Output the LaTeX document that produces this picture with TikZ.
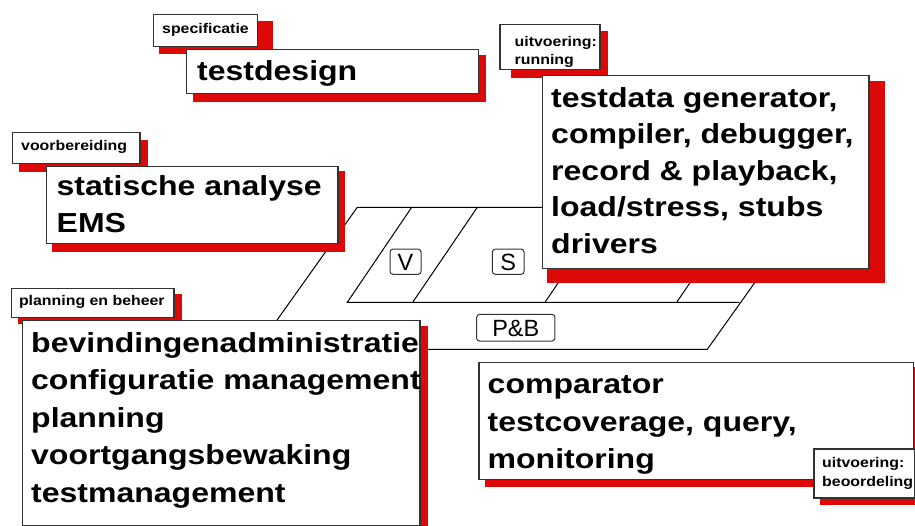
\documentclass[tikz,border=0pt]{standalone}
\usepackage{fontspec}
\setmainfont{Liberation Sans}
\newfontfamily\widesans[FakeStretch=1.164]{Liberation Sans}
\newfontfamily\tagsans[FakeStretch=1.135]{Liberation Sans}
\definecolor{shred}{RGB}{221,8,8}
\tikzset{
  shadowfill/.style={fill=shred, draw=none},
  panel/.style={draw=black!80, line width=1.2pt, fill=white, inner sep=0pt, anchor=north west},
  bigtext/.style={font=\widesans\bfseries\fontsize{27.5}{37}\selectfont, inner sep=0pt, align=left, anchor=north west},
  tagtext/.style={font=\tagsans\bfseries\fontsize{14}{18}\selectfont, inner sep=0pt, align=left, anchor=north west},
  phase/.style={draw=black!80, line width=1pt, fill=white, rounded corners=3pt,
    font=\fontsize{23.5}{28}\selectfont, inner sep=0pt, text height=16.8pt, text depth=0pt},
  frame/.style={line width=1pt, black},
}
\begin{document}
\begin{tikzpicture}[x=1pt,y=-1pt]
\useasboundingbox (0,0) rectangle (915,526);
\clip (0,0) rectangle (915,526);

% phase plan: outer band (P&B) with the inner block of columns (V, S, ...)
\coordinate (oTL) at (357.3,207.3);
\coordinate (oTR) at (808.4,207.3);
\coordinate (oBR) at (707.3,349.3);
\coordinate (oBL) at (256.2,349.3);
\draw[frame] (oTL) -- (oTR) -- (oBR) -- (oBL) -- cycle;
\coordinate (iTL) at (411.7,207.3);
\coordinate (iBL) at (347.3,302.3);
\coordinate (iBR) at (739.3,302.3);
\draw[frame] (iTL) -- (iBL) -- (iBR);
\draw[frame] (477.3,207.3) -- (412.7,302.3);
\draw[frame] (609.6,207.3) -- (545,302.3);
\draw[frame] (741.3,207.3) -- (676.7,302.3);

\node[phase, minimum width=31pt, minimum height=25.3pt] (tagV) at (405.5,261.7) {V};
\node[phase, minimum width=31.7pt, minimum height=25.3pt] (tagS) at (508.2,261.7) {S};
\node[phase, minimum width=78.3pt, minimum height=26.7pt] (tagPB) at (515.8,327.7) {P\&B};

% specificatie / testdesign
\fill[shadowfill] (159,21) rectangle (272.7,54.3);
\node[panel, minimum width=104pt, minimum height=31.7pt] (specbox) at (152.7,14.3) {};
\node[tagtext] (spectext) at (162,18) {\rule{0pt}{15pt}specificatie};
\fill[shadowfill] (193.3,55) rectangle (486,101.7);
\node[panel, minimum width=291.7pt, minimum height=44.3pt] (designbox) at (186,49) {};
\node[bigtext] (designtext) at (197,50.7) {\rule{0pt}{30pt}testdesign};

% uitvoering: running
\fill[shadowfill] (511,31) rectangle (607.7,77.7);
\node[panel, minimum width=100pt, minimum height=45.3pt] (runtag) at (499.3,24) {};
\node[tagtext, font=\tagsans\bfseries\fontsize{14}{17.6}\selectfont] (runtagtext) at (514.5,31.7) {\rule{0pt}{15pt}uitvoering:\\running};
\fill[shadowfill] (547,81) rectangle (885,283.3);
\node[panel, minimum width=326.6pt, minimum height=192.7pt] (runbox) at (541.7,75.3) {};
\node[bigtext, font=\widesans\bfseries\fontsize{27.5}{36.5}\selectfont] (runtext) at (551,77)
  {\rule{0pt}{30pt}testdata generator,\\compiler, debugger,\\record \& playback,\\load/stress, stubs\\drivers};

% voorbereiding
\fill[shadowfill] (19,140) rectangle (147.7,171.7);
\node[panel, minimum width=127.6pt, minimum height=31.6pt] (prepbox) at (11.7,131.7) {};
\node[tagtext] (preptext) at (21,135.7) {\rule{0pt}{15pt}voorbereiding};
\fill[shadowfill] (52.3,170.7) rectangle (345,251.7);
\node[panel, minimum width=291.3pt, minimum height=77.6pt] (statbox) at (46,165.7) {};
\node[bigtext] (stattext) at (56.5,165) {\rule{0pt}{30pt}statische analyse\\EMS};

% planning en beheer
\fill[shadowfill] (17.7,294.3) rectangle (181.7,324.3);
\node[panel, minimum width=162.3pt, minimum height=28.4pt] (plantag) at (11,288.3) {};
\node[tagtext] (plantagtext) at (18.8,290) {\rule{0pt}{15pt}planning en beheer};
\fill[shadowfill] (27,326) rectangle (428.3,535);
\node[panel, minimum width=397.6pt, minimum height=205pt] (planbox) at (21.7,320) {};
\node[bigtext, font=\widesans\bfseries\fontsize{27.5}{37.5}\selectfont] (plantext) at (31,322)
  {\rule{0pt}{30pt}bevindingenadministratie\\configuratie management\\planning\\voortgangsbewaking\\testmanagement};

% uitvoering: beoordeling
\fill[shadowfill] (485,367.3) rectangle (925,486.7);
\node[panel, minimum width=434.4pt, minimum height=117.3pt] (compbox) at (478.3,361.7) {};
\node[bigtext, font=\widesans\bfseries\fontsize{27.5}{37.5}\selectfont] (comptext) at (487.5,363.5)
  {\rule{0pt}{30pt}comparator\\testcoverage, query,\\monitoring};
\fill[shadowfill] (820,455) rectangle (925,505);
\node[panel, minimum width=100.5pt, minimum height=49pt] (judgetag) at (813.3,448.3) {};
\node[tagtext, font=\tagsans\bfseries\fontsize{14}{18.7}\selectfont] (judgetext) at (822,452.3) {\rule{0pt}{15pt}uitvoering:\\beoordeling};
\end{tikzpicture}
\end{document}
